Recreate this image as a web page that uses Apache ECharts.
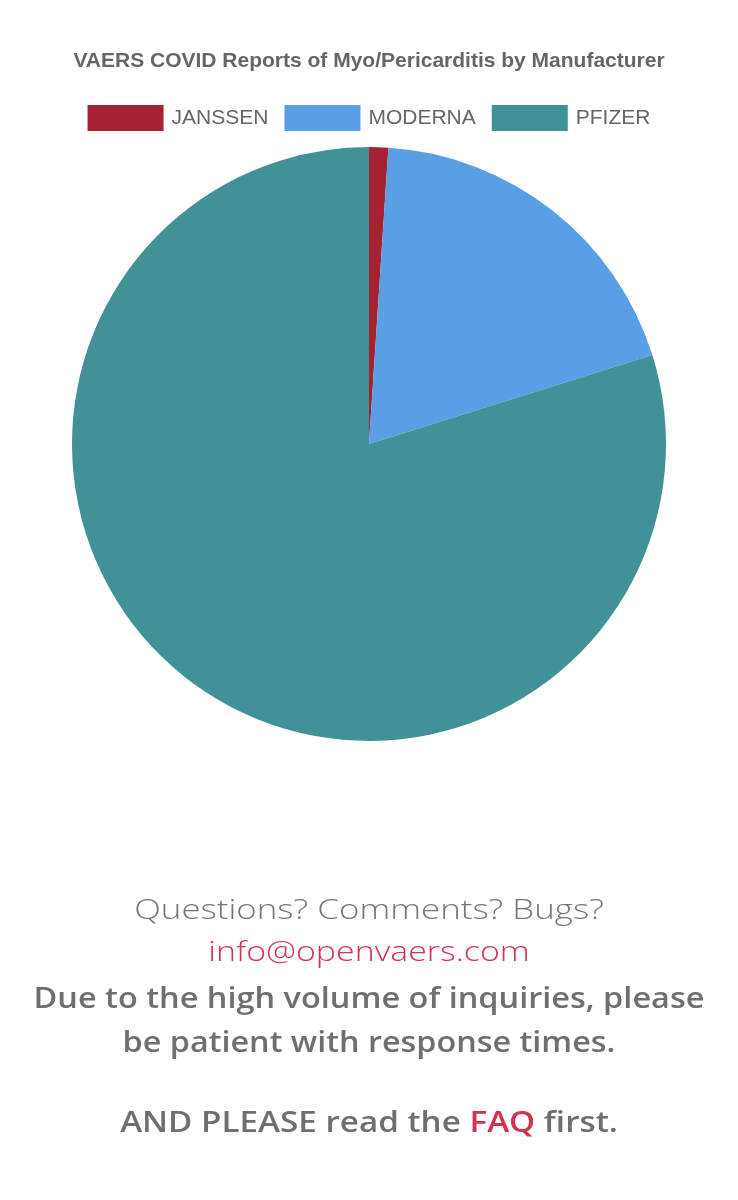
<!DOCTYPE html>
<html>
<head>
<meta charset="utf-8">
<script src="https://cdn.jsdelivr.net/npm/echarts@6/dist/echarts.min.js"></script>
<style>
html, body { margin: 0; padding: 0; background: #fff; }
#main { width: 738px; height: 1200px; }
</style>
</head>
<body>
<div id="main"></div>
<script>
var manufacturers = ['JANSSEN', 'MODERNA', 'PFIZER'];
var reports = [105, 1930, 8060];
var sliceColors = ['#a52232', '#58a0e3', '#409297'];

var myChart = echarts.init(document.getElementById('main'));
var pieData = manufacturers.map(function (name, i) {
    return { name: name, value: reports[i] };
});

// footer line: centred text stretched horizontally (wide font not installed)
function footLine(y, sx, style) {
    style.x = 0;
    style.y = 0;
    style.textAlign = 'center';
    style.textVerticalAlign = 'top';
    return { type: 'text', x: 369, y: y, scaleX: sx, style: style };
}

var gray = '#6f6f6f';
var red = '#d6304d';

option = {
    animation: false,
    title: {
        text: 'VAERS COVID Reports of Myo/Pericarditis by Manufacturer',
        left: 'center',
        top: 46,
        textStyle: {
            color: '#666',
            fontSize: 21,
            fontWeight: 'bold',
            fontFamily: 'Liberation Sans'
        }
    },
    legend: {
        top: 100,
        left: 'center',
        itemWidth: 76,
        itemHeight: 26,
        itemGap: 16,
        icon: 'rect',
        textStyle: {
            color: '#666',
            fontSize: 21,
            fontFamily: 'Liberation Sans',
            padding: [0, 0, 0, 3]
        },
        data: manufacturers
    },
    color: sliceColors,
    series: [
        {
            name: 'Reports',
            type: 'pie',
            center: [369, 444],
            radius: [0, 297],
            startAngle: 90,
            label: { show: false },
            labelLine: { show: false },
            data: pieData
        }
    ],
    graphic: [
        footLine(897, 1.245, { text: 'Questions? Comments? Bugs?', fill: '#777', font: '300 28px "Open Sans"' }),
        footLine(939, 1.21, { text: 'info@openvaers.com', fill: red, font: '300 28px "Open Sans"' }),
        footLine(986, 1.16, { text: 'Due to the high volume of inquiries, please', fill: gray, font: '600 28px "Open Sans"' }),
        footLine(1030, 1.155, { text: 'be patient with response times.', fill: gray, font: '600 28px "Open Sans"' }),
        footLine(1110, 1.186, {
            text: '{g|AND PLEASE read the }{r|FAQ}{g| first.}',
            rich: {
                g: { fill: gray, font: '600 28px "Open Sans"' },
                r: { fill: red, font: '600 28px "Open Sans"' }
            }
        })
    ]
};
myChart.setOption(option);
</script>
</body>
</html>
